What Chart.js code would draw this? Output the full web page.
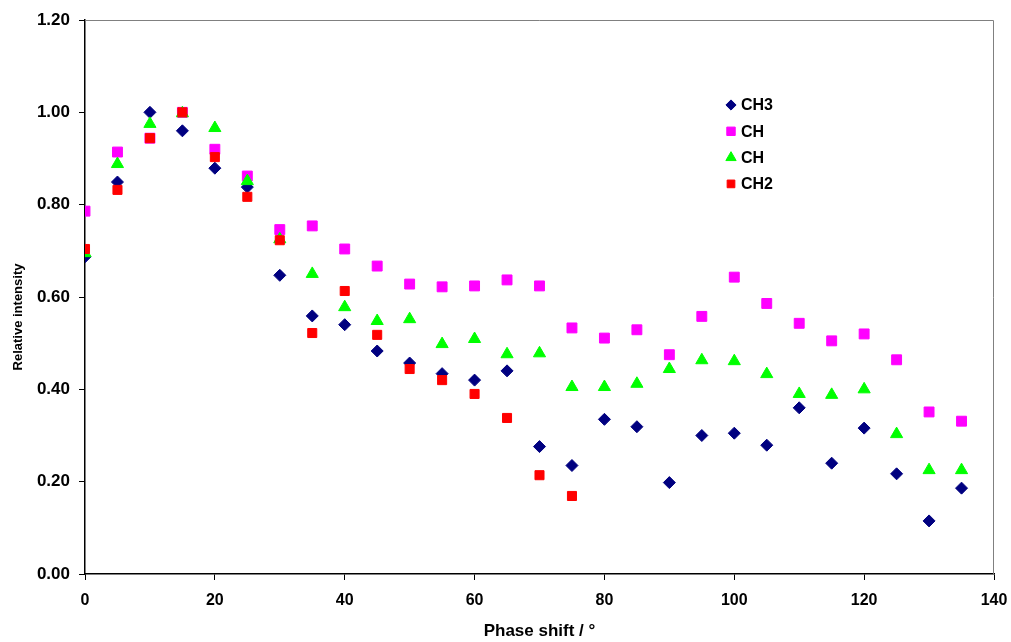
<!DOCTYPE html>
<html>
<head>
<meta charset="utf-8">
<script src="https://cdn.jsdelivr.net/npm/chart.js@4.4.1/dist/chart.umd.min.js"></script>
<style>
  html, body { margin: 0; padding: 0; background: #fff; }
  #wrap { width: 1011px; height: 642px; position: relative; }
</style>
</head>
<body>
<div id="wrap"><canvas id="chart"></canvas></div>
<script>
// phase shift (deg)
const phase = [0, 5, 10, 15, 20, 25, 30, 35, 40, 45, 50, 55, 60, 65, 70, 75, 80, 85, 90, 95, 100, 105, 110, 115, 120, 125, 130, 135];

const ch3 = [0.687, 0.849, 1.00, 0.960, 0.879, 0.838, 0.647, 0.559, 0.540, 0.483, 0.457, 0.434, 0.420, 0.440, 0.276, 0.235,
             0.335, 0.319, 0.198, 0.300, 0.305, 0.279, 0.360, 0.240, 0.316, 0.217, 0.115, 0.186];
const chMagenta = [0.786, 0.914, 0.944, 1.00, 0.920, 0.862, 0.746, 0.754, 0.704, 0.667, 0.628, 0.622, 0.624, 0.637, 0.624, 0.533,
                   0.511, 0.529, 0.475, 0.558, 0.643, 0.586, 0.543, 0.505, 0.520, 0.464, 0.351, 0.331];
const chGreen = [0.695, 0.888, 0.975, 0.998, 0.966, 0.851, 0.725, 0.650, 0.578, 0.548, 0.552, 0.498, 0.509, 0.476, 0.478, 0.405,
                 0.405, 0.412, 0.444, 0.463, 0.461, 0.433, 0.390, 0.388, 0.400, 0.303, 0.225, 0.225];
// CH2 only measured up to 75 deg
const ch2 = [0.704, 0.832, 0.944, 1.00, 0.903, 0.817, 0.723, 0.522, 0.613, 0.518, 0.444, 0.420, 0.390, 0.338, 0.214, 0.169];

const yTicks = [0, 0.2, 0.4, 0.6, 0.8, 1.0, 1.2];
const xTicks = [0, 20, 40, 60, 80, 100, 120, 140];

const toPts = (ys) => ys.map((y, i) => ({ x: phase[i], y }));

const FONT = '"Liberation Sans", Arial, sans-serif';

// gray border on top/right of plot area, like the original
const frame = {
  id: 'frame',
  beforeDatasetsDraw(chart) {
    const { ctx, chartArea: a } = chart;
    ctx.save();
    ctx.strokeStyle = '#808080';
    ctx.lineWidth = 1;
    ctx.beginPath();
    ctx.moveTo(a.left, a.top + 0.5);
    ctx.lineTo(a.right - 0.5, a.top + 0.5);
    ctx.lineTo(a.right - 0.5, a.bottom);
    ctx.stroke();
    ctx.restore();
  }
};

// y title sits a bit below the axis centre in the original, draw it by hand
const yTitle = {
  id: 'yTitle',
  afterDraw(chart) {
    const { ctx } = chart;
    ctx.save();
    ctx.translate(18, 317);
    ctx.rotate(-Math.PI / 2);
    ctx.font = 'bold 13px ' + FONT;
    ctx.textAlign = 'center';
    ctx.textBaseline = 'middle';
    ctx.fillStyle = '#000';
    ctx.fillText('Relative intensity', 0, 0);
    ctx.restore();
  }
};

// legend drawn inside the plot area
const insideLegend = {
  id: 'insideLegend',
  afterDraw(chart) {
    const { ctx } = chart;
    const x = 731, y0 = 105, step = 26.3;
    ctx.save();
    ctx.font = 'bold 16px ' + FONT;
    ctx.textBaseline = 'middle';
    chart.data.datasets.forEach((ds, i) => {
      const y = y0 + i * step;
      ctx.fillStyle = ds.backgroundColor;
      ctx.strokeStyle = ds.borderColor;
      Chart.helpers.drawPoint(ctx, { pointStyle: ds.pointStyle, radius: ds.pointRadius * 0.85, borderWidth: 1 }, x, y);
      ctx.fillStyle = '#000';
      ctx.fillText(ds.label, x + 10, y + 1);
    });
    ctx.restore();
  }
};

new Chart(document.getElementById('chart'), {
  type: 'scatter',
  data: {
    datasets: [
      { label: 'CH3', data: toPts(ch3), pointStyle: 'rectRot', pointRadius: 6, backgroundColor: '#000080', borderColor: '#000080', order: 4 },
      { label: 'CH', data: toPts(chMagenta), pointStyle: 'rect', pointRadius: 7, backgroundColor: '#ff00ff', borderColor: '#ff00ff', order: 3 },
      { label: 'CH', data: toPts(chGreen), pointStyle: 'triangle', pointRadius: 7, backgroundColor: '#00ff00', borderColor: '#00ff00', order: 2 },
      { label: 'CH2', data: toPts(ch2), pointStyle: 'rect', pointRadius: 6.4, backgroundColor: '#ff0000', borderColor: '#ff0000', order: 1 }
    ]
  },
  options: {
    responsive: true,
    maintainAspectRatio: false,
    animation: false,
    layout: { padding: { top: 20, right: 17, left: 0, bottom: 0 } },
    plugins: { legend: { display: false }, tooltip: { enabled: false } },
    elements: { point: { borderWidth: 1, hoverRadius: 6 } },
    scales: {
      x: {
        type: 'linear',
        min: 0, max: 140,
        afterBuildTicks: (s) => { s.ticks = xTicks.map(v => ({ value: v })); },
        afterFit: (s) => { s.height = 68; s.paddingLeft = 0; s.paddingRight = 0; },
        border: { color: '#000', width: 1.5 },
        grid: { display: true, drawOnChartArea: false, drawTicks: true, tickLength: 6, color: '#000' },
        ticks: { color: '#000', font: { family: FONT, size: 16, weight: 'bold' }, padding: 11, maxRotation: 0 },
        title: { display: true, text: 'Phase shift / °', color: '#000', font: { family: FONT, size: 17, weight: 'bold' }, padding: { top: 4, bottom: 0 } }
      },
      y: {
        min: 0, max: 1.2,
        afterBuildTicks: (s) => { s.ticks = yTicks.map(v => ({ value: v })); },
        afterFit: (s) => { s.width = 85; s.paddingTop = 0; s.paddingBottom = 0; },
        border: { color: '#000', width: 1.5 },
        grid: { display: true, drawOnChartArea: false, drawTicks: true, tickLength: 6, color: '#000' },
        ticks: { color: '#000', font: { family: FONT, size: 17, weight: 'bold' }, padding: 9, callback: (v) => Number(v).toFixed(2) },
        title: { display: false }
      }
    }
  },
  plugins: [frame, yTitle, insideLegend]
});
</script>
</body>
</html>
